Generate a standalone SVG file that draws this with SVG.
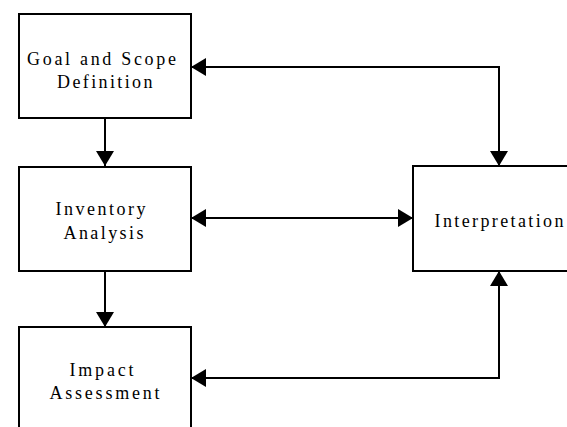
<svg xmlns="http://www.w3.org/2000/svg" width="567" height="427" viewBox="0 0 567 427">
<style>
.box{fill:#fff;stroke:#000;stroke-width:2}
.lbl{font-family:"Liberation Serif","Times New Roman",serif;font-size:18px;fill:#000}
.con{fill:none;stroke:#000;stroke-width:2}
</style>
<defs>
<marker id="ah" viewBox="0 0 15 18" refX="15" refY="9" markerWidth="15" markerHeight="18" markerUnits="userSpaceOnUse" orient="auto-start-reverse">
<path d="M0,0 L15,9 L0,18 Z" fill="#000"/>
</marker>
</defs>
<rect width="567" height="427" fill="#fff"/>
<g id="connectors">
<path class="con" d="M105,118 V166" marker-end="url(#ah)"/>
<path class="con" d="M105,271 V327" marker-end="url(#ah)"/>
<path class="con" d="M191,67 H499 V166" marker-start="url(#ah)" marker-end="url(#ah)"/>
<path class="con" d="M191,218 H413" marker-start="url(#ah)" marker-end="url(#ah)"/>
<path class="con" d="M191,378 H499 V271" marker-start="url(#ah)" marker-end="url(#ah)"/>
</g>
<g id="goal">
<rect class="box" x="19" y="14" width="172" height="104"/>
<text class="lbl" x="27" y="64.5" textLength="149" lengthAdjust="spacing">Goal and Scope</text>
<text class="lbl" x="57" y="87.5" textLength="95.5" lengthAdjust="spacing">Definition</text>
</g>
<g id="inventory">
<rect class="box" x="19" y="167" width="172" height="104"/>
<text class="lbl" x="55.5" y="215" textLength="90" lengthAdjust="spacing">Inventory</text>
<text class="lbl" x="63.5" y="239" textLength="80" lengthAdjust="spacing">Analysis</text>
</g>
<g id="impact">
<rect class="box" x="19" y="327" width="172" height="104"/>
<text class="lbl" x="69.5" y="376" textLength="64" lengthAdjust="spacing">Impact</text>
<text class="lbl" x="49.5" y="399" textLength="110" lengthAdjust="spacing">Assessment</text>
</g>
<g id="interpretation">
<rect class="box" x="413" y="166" width="172" height="105"/>
<text class="lbl" x="434.5" y="226.7" textLength="129" lengthAdjust="spacing">Interpretation</text>
</g>
</svg>
